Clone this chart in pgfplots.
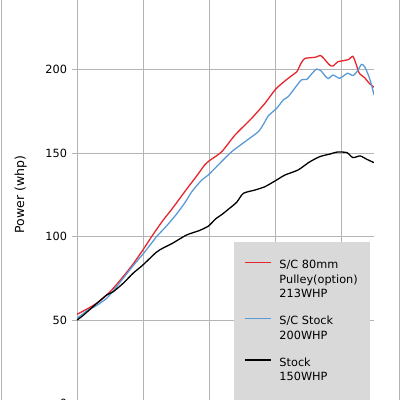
\documentclass[border=0pt]{standalone}
\usepackage{fontspec}
\setmainfont{DejaVu Sans}
\usepackage{pgfplots}
\pgfplotsset{compat=1.18}

\definecolor{pulleyred}{HTML}{E8252D}
\definecolor{scblue}{HTML}{5B9BD5}
\definecolor{gridgray}{HTML}{B4B4B4}
\definecolor{legendgray}{HTML}{D9D9D9}

\begin{document}
\begin{tikzpicture}
\fontsize{11.3}{14.5}\selectfont
% the reference is a crop of a larger chart
\useasboundingbox (-77pt,3.6pt) rectangle (323pt,403.6pt);
\clip (-77pt,3.6pt) rectangle (323pt,403.6pt);
\begin{axis}[
    scale only axis,
    width=297pt, height=417.8pt,
    xmin=2000, xmax=6500,
    ymin=0, ymax=250,
    xtick={2000,3000,4000,5000,6000},
    ytick={0,50,100,150,200},
    extra y ticks={250}, extra y tick labels={},
    xticklabels={},
    grid=major,
    grid style={gridgray, line width=0.8pt},
    axis line style={gridgray, line width=0.8pt},
    axis x line*=bottom,
    axis y line*=left,
    tick align=outside,
    major tick length=5pt,
    tick style={gridgray, line width=0.8pt},
    /pgf/number format/assume math mode=true,
    yticklabel style={font=\fontsize{11.3}{14}\selectfont, xshift=-1pt},
    ylabel={Power (whp)},
    ylabel style={at={(axis description cs:-0.19,0.5)}, anchor=center,
        font=\fontsize{12.5}{14}\selectfont},
    legend style={
        at={(axis description cs:0.5286,0.3868)}, anchor=north west,
        fill=legendgray, draw=none,
        inner xsep=10pt, inner ysep=16pt,
        row sep=12.5pt, column sep=6pt,
        font=\fontsize{11.3}{14.5}\selectfont,
        cells={align=left, anchor=north west, inner sep=0pt},
    },
    legend image code/.code={\draw[#1, line width=1.3pt] (0pt,-4.4pt) -- (26pt,-4.4pt);},
]
\addplot[pulleyred, line width=1.3pt, smooth, tension=0.4] coordinates {
(2000,53.4)(2100,55.5)(2250,58.8)(2350,61.5)(2450,65)(2550,69)(2700,76)
(2850,83.5)(3000,92)(3132,100)(3300,109.5)(3450,117)(3636,127)(3800,135.5)
(3939,143)(4000,145.2)(4192,150.7)(4394,160.7)(4646,170.7)(4848,179.7)
(5000,187.7)(5076,190.6)(5180,194)(5280,197)(5330,198.5)(5400,204)(5450,206.5)
(5550,207)(5620,207.3)(5690,208.3)(5760,205.6)(5830,202.5)(5880,202)
(5950,204.5)(6050,205.3)(6120,206)(6180,207.8)(6230,203)(6280,197.5)
(6360,195)(6420,192)(6500,189.3)
};
\addlegendentry{S/C 80mm\\Pulley(option)\\213WHP}
\addplot[scblue, line width=1.3pt, smooth, tension=0.4] coordinates {
(2000,51)(2150,55.5)(2300,58.8)(2450,63)(2550,67.5)(2700,75)(2850,82.5)
(3000,89.5)(3100,94.5)(3208,100)(3350,106)(3500,113)(3640,120.5)(3740,126.8)
(3890,133.8)(3990,136.8)(4140,142.8)(4343,150.7)(4545,156.7)(4747,162.7)
(4830,167.5)(4899,172.2)(5025,176.7)(5126,181.7)(5200,183.7)(5280,187.7)
(5400,193.7)(5480,194)(5550,197)(5630,200.2)(5700,199)(5760,196)(5810,194.5)
(5880,196.6)(5980,194.7)(6100,197.7)(6180,196.3)(6250,199)(6310,203)
(6360,201.5)(6420,196)(6460,191)(6500,184.7)
};
\addlegendentry{S/C Stock\\200WHP}
\addplot[black, line width=1.3pt, smooth, tension=0.4] coordinates {
(2000,50)(2100,53)(2300,60)(2450,65)(2550,67)(2700,72)(2850,78)(3000,83)
(3200,90.5)(3300,93)(3450,96)(3660,100.9)(3850,103.5)(3990,106.2)(4100,110.5)
(4200,113.3)(4300,116.5)(4420,120.5)(4520,125.8)(4697,127.8)(4848,129.8)
(5025,133.8)(5152,136.8)(5350,139.8)(5520,144.5)(5680,147.8)(5840,149.4)
(5940,150.5)(6090,150.2)(6180,147.2)(6290,148.2)(6390,146.2)(6500,144.2)
};
\addlegendentry{Stock\\150WHP}
\end{axis}
% outer chart frame
\draw[gridgray, line width=0.8pt] (-76pt,0pt) -- (-76pt,410pt);
\draw[gridgray, line width=0.8pt] (322pt,0pt) -- (322pt,410pt);
\end{tikzpicture}
\end{document}
